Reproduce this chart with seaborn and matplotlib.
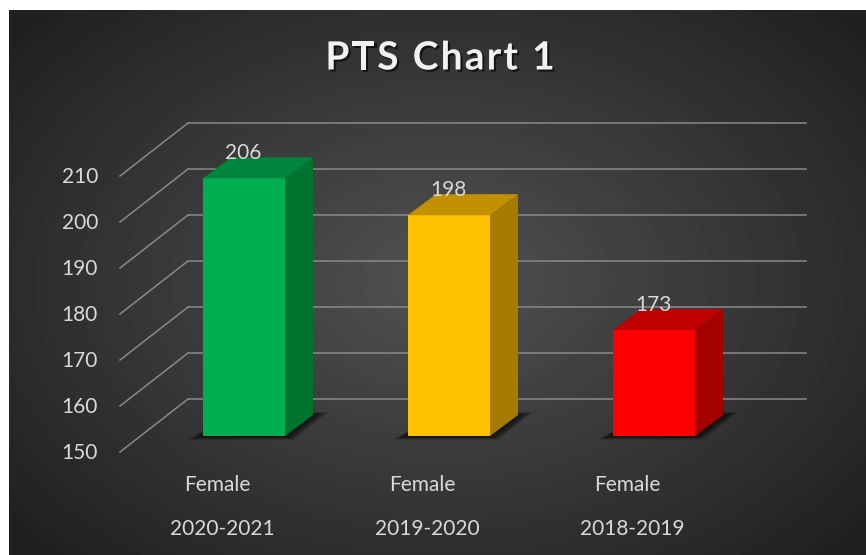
import numpy as np
import matplotlib
matplotlib.use("Agg")
import matplotlib.pyplot as plt
import matplotlib.patheffects as pe
from matplotlib.patches import Polygon
import seaborn as sns
import pandas as pd

# ---------------- data ----------------
categories = ["2020-2021", "2019-2020", "2018-2019"]
series_label = "Female"
values = [206, 198, 173]
y_ticks = [150, 160, 170, 180, 190, 200, 210]
title = "PTS Chart 1"

front_colors = ["#00B050", "#FFC000", "#FF0000"]
top_colors = ["#00863D", "#C29100", "#C00000"]
side_colors = ["#00732F", "#A67C00", "#A30000"]

# ---------------- figure ----------------
W, H = 866, 555
fig = plt.figure(figsize=(W / 100, H / 100), dpi=100)
fig.patch.set_facecolor("white")

# radial dark background
bg = fig.add_axes([9 / W, 0, (W - 9) / W, (H - 10) / H])
bh, bw = H - 10, W - 9
yy, xx = np.mgrid[0:bh, 0:bw]
r = np.sqrt(((xx - 431) / 520) ** 2 + ((yy - 270) / 360) ** 2)
val = 0.32 - 0.18 * np.clip(r, 0, 1.1)
bg.imshow(val, cmap="gray", vmin=0, vmax=1, aspect="auto", interpolation="bilinear")
bg.axis("off")

# main axes (front plane of the bars)
ax = fig.add_axes([141.5 / W, 119 / H, 615 / W, 322 / H])
ax.patch.set_alpha(0)

df = pd.DataFrame({"period": categories, "value": values})
sns.barplot(data=df, x="period", y="value", hue="period", palette=front_colors,
            width=0.4, legend=False, ax=ax, saturation=1, linewidth=0, zorder=3)
ax.set_xlim(-0.5, 2.5)
ax.set_ylim(150, 220)
ax.axis("off")

PX = 1 / 205.0   # data units per pixel (x)
PY = 1 / 4.6     # data units per pixel (y)
ddx, ddy = 28 * PX, 21 * PY          # bar depth
fdx, fdy = -20 * PX, -16 * PY        # front plane offset
bdx, bdy = 48 * PX, 37 * PY          # back wall offset
y0 = 150

grid_c = "#8A8A8A"
xl = -0.5 + (188 - 141.5) * PX
xr = -0.5 + (806 - 141.5) * PX
for v in y_ticks:
    ax.plot([xl, xr], [v + bdy, v + bdy], color=grid_c, lw=1.1, clip_on=False, zorder=0.5)
    ax.plot([xl - 68 * PX, xl], [v + fdy, v + bdy], color=grid_c, lw=1.1, clip_on=False, zorder=0.5)
    ax.text(-0.5 + (98 - 141.5) * PX, v + fdy - 1 * PY, str(v), ha="right", va="center",
            fontsize=15, color="#D9D9D9", family="Lato")

bars = sorted([p for p in ax.patches], key=lambda p: p.get_x())
for i, p in enumerate(bars):
    x0 = p.get_x()
    w = p.get_width()
    x1 = x0 + w
    top = p.get_height()
    # soft shadow
    for k in range(8):
        e = (8 - k) * 1.6
        sh = Polygon([(x0 - (3 + e) * PX, y0 - (0.5 + e * 0.25) * PY),
                      (x1 + (2 + e * 0.5) * PX, y0 - (0.5 + e * 0.25) * PY),
                      (x1 + ddx + (3 + e) * PX, y0 + ddy + (0.5 + e * 0.2) * PY),
                      (x0 + ddx, y0 + ddy)],
                     closed=True, facecolor="black", edgecolor="none", alpha=0.11,
                     zorder=0.8, clip_on=False)
        ax.add_patch(sh)
    side = Polygon([(x1, y0), (x1 + ddx, y0 + ddy), (x1 + ddx, top + ddy), (x1, top)],
                   closed=True, facecolor=side_colors[i], edgecolor="none", zorder=3, clip_on=False)
    topf = Polygon([(x0, top), (x0 + ddx, top + ddy), (x1 + ddx, top + ddy), (x1, top)],
                   closed=True, facecolor=top_colors[i], edgecolor="none", zorder=3, clip_on=False)
    ax.add_patch(side)
    ax.add_patch(topf)
    cx = x0 + w / 2
    ax.text(cx - 1 * PX, top + 25 * PY, str(values[i]), ha="center", va="center",
            fontsize=15, color="#D9D9D9", family="Lato", zorder=5)
    ax.text(cx - 27 * PX, y0 - 49 * PY, series_label, ha="center", va="center",
            fontsize=15, color="#D9D9D9", family="Lato")
    ax.text(cx - 22 * PX, y0 - 93 * PY, categories[i], ha="center", va="center",
            fontsize=15, color="#D9D9D9", family="Lato")

# title with letter spacing
renderer = fig.canvas.get_renderer()
tkw = dict(fontsize=28, fontweight="bold", color="#F2F2F2", family="Lato", va="center", ha="left",
           path_effects=[pe.withSimplePatchShadow(offset=(1.5, -1.5), shadow_rgbFace="black", alpha=0.6)])
spacing = 2.2  # px
widths = []
for ch in title:
    t = fig.text(0, 0, ch if ch != " " else "n", **tkw)
    wdt = t.get_window_extent(renderer).width
    if ch == " ":
        wdt *= 0.45
    widths.append(wdt)
    t.remove()
total = sum(widths) + spacing * (len(title) - 1)
xpix = 440 - total / 2
ypix = H - 58
for ch, wdt in zip(title, widths):
    if ch != " ":
        fig.text(xpix / W, ypix / H, ch, **tkw)
    xpix += wdt + spacing

fig.savefig("out.png", dpi=100, facecolor="white")
